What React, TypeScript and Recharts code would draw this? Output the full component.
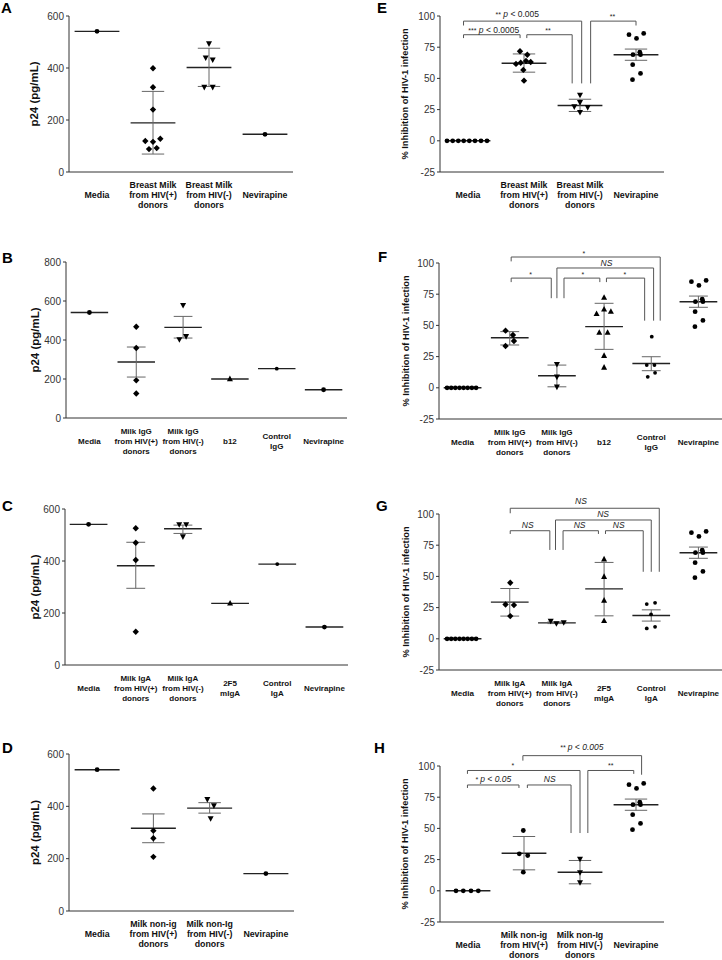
import React from 'react'
import { ScatterChart, Scatter, XAxis, YAxis, ReferenceLine, ReferenceDot } from 'recharts'

const FONT = '"Liberation Sans", Arial, Helvetica, sans-serif'
const AXIS = '#333'

// ---------- category labels ----------
const catsBM = ['Media', 'Breast Milk\nfrom HIV(+)\ndonors', 'Breast Milk\nfrom HIV(-)\ndonors', 'Nevirapine']
const catsIgG = ['Media', 'Milk IgG\nfrom HIV(+)\ndonors', 'Milk IgG\nfrom HIV(-)\ndonors', 'b12', 'Control\nIgG', 'Nevirapine']
const catsIgA = ['Media', 'Milk IgA\nfrom HIV(+)\ndonors', 'Milk IgA\nfrom HIV(-)\ndonors', '2F5\nmIgA', 'Control\nIgA', 'Nevirapine']
const catsNonIg = ['Media', 'Milk non-ig\nfrom HIV(+)\ndonors', 'Milk non-Ig\nfrom HIV(-)\ndonors', 'Nevirapine']

const p24Ticks = [0, 200, 400, 600]
const p24TicksB = [0, 200, 400, 600, 800]
const inhTicks = [-25, 0, 25, 50, 75, 100]

// ---------- A: p24, whole milk ----------
const aPos = [399, 326, 240, 119, 116, 128, 88, 92]
const aPosJit = [0, 0, 0, -7.7, 0, 7.3, -4, 3.7]
const aNeg = [494, 440, 432, 327, 327]
const aNegJit = [0, -3.3, 3.7, -4.7, 3.7]
const aMean = [541, 189, 402, 145]
const aLo = [null, 69, 329, null]
const aHi = [null, 310, 476, null]

// ---------- B: p24, IgG ----------
const bPos = [468, 359, 193, 126]
const bNeg = [579, 403, 419]
const bNegJit = [0, -3.7, 3]
const bMean = [541, 287, 465, 200, 253, 145]
const bLo = [null, 210, 410, null, null, null]
const bHi = [null, 364, 521, null, null, null]

// ---------- C: p24, IgA ----------
const cPos = [526, 470, 404, 128]
const cNeg = [541, 541, 494]
const cNegJit = [-3.7, 3.3, 0]
const cMean = [541, 382, 524, 237, 388, 146]
const cLo = [null, 295, 506, null, null, null]
const cHi = [null, 472, 538, null, null, null]

// ---------- D: p24, non-Ig ----------
const dPos = [468, 307, 278, 207]
const dNeg = [427, 403, 354]
const dNegJit = [-2.3, 4.3, 1]
const dMean = [540, 316, 393, 143]
const dLo = [null, 261, 374, null]
const dHi = [null, 371, 414, null]

// ---------- inhibition panels ----------
const media8 = [0, 0, 0, 0, 0, 0, 0, 0]
const media8JitWide = [-21, -15.3, -9.7, -4.3, 1.3, 7, 13, 19]
const media8JitNarrow = [-15.5, -11.4, -7.3, -3.1, 1, 5.1, 9.3, 13.5]
const nevInh = [85, 82, 86, 71, 69, 69, 61, 54, 49]
const nevJit = [-7, 0.5, 7.7, 3.8, -3, 4.5, -3.3, 4.5, -3.5]

// E
const ePos = [71.7, 69, 64, 63.2, 62.6, 61.6, 56.8, 48.2]
const ePosJit = [-4, 3.3, 2, 6.7, -3.3, -8, -0.7, 0]
const eNeg = [36.8, 30.9, 27.5, 26.9, 22.9]
const eNegJit = [0, 0, -5.7, 7.7, 0]
const eMean = [0, 62.1, 28.3, 69]
const eLo = [null, 55, 23.5, 64.5]
const eHi = [null, 69.6, 33.3, 73.5]

// F
const fPos = [45.8, 42.3, 37.5, 33.5]
const fPosJit = [-4.2, 3.2, 4.2, -4.2]
const fNeg = [19, 8.8, 0.8]
const fB12 = [72.3, 59.2, 62.9, 61, 44.2, 44.2, 25.7, 16.3]
const fB12Jit = [0, -7.5, 0, 6.8, -4.8, 3.5, 0, 0]
const fCtrl = [41, 18.2, 18.2, 12, 8.8]
const fCtrlJit = [0.5, -4.5, 3.2, 3.8, -3.5]
const fMean = [0, 40.1, 9.6, 49, 19.5, 69]
const fLo = [null, 34.3, 0.8, 30.8, 13.7, 64.5]
const fHi = [null, 45, 18.2, 67.7, 24.9, 73.5]

// G
const gPos = [44.9, 27.5, 27, 18.2]
const gPosJit = [0.5, -4.2, 4.2, 0.5]
const gNeg = [14.4, 12.3, 13.1]
const gNegJit = [-6.2, -0.5, 6.8]
const g2F5 = [63.8, 49.7, 30.7, 14.4]
const gCtrl = [27.8, 28.8, 19.5, 8.3, 9.6]
const gCtrlJit = [-4.5, 3.8, -0.2, -4.5, 3.8]
const gMean = [0, 29.4, 12.8, 40, 18.7, 69]
const gLo = [null, 18.2, 12.2, 18.4, 14.2, 64.5]
const gHi = [null, 40.3, 13.5, 61.2, 23.2, 73.5]

// H
const hMedia = [0, 0, 0, 0]
const hMediaJit = [-12, -4.7, 3, 10.3]
const hPos = [48.3, 29.6, 28.3, 14.9]
const hPosJit = [-0.7, -4.7, 3.7, -0.7]
const hNeg = [25.6, 14.7, 6.7]
const hMean = [0, 30.1, 14.9, 69]
const hLo = [null, 16.8, 5.6, 64.5]
const hHi = [null, 43.5, 24.3, 73.5]

// significance brackets: [x1, x2, yTop, leftLegEnd, rightLegEnd]
type Bracket = [number, number, number, number, number]
const bracketsE: Bracket[] = [
  [-0.08, 0.93, 85, 82.3, 82.3],
  [1.05, 1.86, 85, 82.3, 46],
  [-0.08, 2.03, 95.9, 92.4, 46],
  [2.19, 3.0, 95.9, 46, 92.4],
]
const bracketsF: Bracket[] = [
  [1.03, 4.19, 104.8, 101.3, 53.8],
  [2.0, 4.05, 96, 71.8, 53.8],
  [1.03, 1.88, 87.9, 84.7, 71.8],
  [2.15, 2.91, 87.9, 71.8, 84.7],
  [3.05, 3.86, 87.9, 84.7, 53.8],
]
const bracketsG: Bracket[] = [
  [1.01, 4.17, 104.6, 100.6, 53.7],
  [1.97, 4.0, 95.2, 71.2, 53.7],
  [1.01, 1.85, 86.6, 84, 71.2],
  [2.13, 2.88, 86.6, 71.2, 84],
  [3.03, 3.83, 86.6, 84, 53.7],
]
const bracketsH: Bracket[] = [
  [-0.01, 0.91, 84.8, 82.4, 82.4],
  [1.06, 1.84, 84.8, 82.4, 46.3],
  [-0.01, 2.0, 96.4, 93.7, 46.3],
  [2.14, 2.96, 96.4, 46.3, 93.7],
  [0.98, 3.1, 108.3, 104.3, 93],
]

type Note = { x: number; y: number; stars?: string; p?: string; ns?: boolean; it?: boolean }
const notesE: Note[] = [
  { x: 0.46, y: 86.5, stars: '***', p: '< 0.0005' },
  { x: 1.43, y: 86, stars: '**' },
  { x: 0.88, y: 99.3, stars: '**', p: '< 0.005' },
  { x: 2.58, y: 97.5, stars: '**' },
]
const notesF: Note[] = [
  { x: 2.57, y: 106, stars: '*' },
  { x: 3.05, y: 97.3, ns: true },
  { x: 1.44, y: 89, stars: '*' },
  { x: 2.55, y: 89, stars: '*' },
  { x: 3.44, y: 89, stars: '*' },
]
const notesG: Note[] = [
  { x: 2.51, y: 108, ns: true },
  { x: 2.98, y: 97.4, ns: true },
  { x: 1.38, y: 88.5, ns: true },
  { x: 2.48, y: 88.5, ns: true },
  { x: 3.31, y: 88.5, ns: true },
]
const notesH: Note[] = [
  { x: 0.45, y: 87, stars: '*', p: '< 0.05', it: true },
  { x: 1.46, y: 87, ns: true },
  { x: 0.8, y: 98.4, stars: '*' },
  { x: 2.55, y: 98.4, stars: '**' },
  { x: 2.03, y: 113.2, stars: '**', p: '< 0.005', it: true },
]

type Mk = 'circle' | 'diamond' | 'up' | 'down' | 'small'
type Group = { cat: number; values: number[]; jitter?: number[]; kind: Mk }

function Marker({ cx, cy, kind }: { cx?: number; cy?: number; kind: Mk }) {
  if (cx == null || cy == null) return null
  if (kind === 'diamond')
    return <path d={`M${cx},${cy - 3.2}L${cx + 3.2},${cy}L${cx},${cy + 3.2}L${cx - 3.2},${cy}Z`} fill="#000" />
  if (kind === 'up')
    return <path d={`M${cx},${cy - 3.4}L${cx + 3},${cy + 2.2}L${cx - 3},${cy + 2.2}Z`} fill="#000" />
  if (kind === 'down')
    return <path d={`M${cx},${cy + 3.4}L${cx + 3},${cy - 2.2}L${cx - 3},${cy - 2.2}Z`} fill="#000" />
  if (kind === 'small') return <circle cx={cx} cy={cy} r={1.9} fill="#000" />
  return <circle cx={cx} cy={cy} r={2.4} fill="#000" />
}

function CatTick({ x, y, payload, cats, size }: any) {
  const lines = String(cats[payload.value] ?? '').split('\n')
  return (
    <g>
      {lines.map((ln: string, k: number) => (
        <text key={k} x={x} y={y + 23 + (k - (lines.length - 1) / 2) * 10} textAnchor="middle"
          dominantBaseline="central" fontSize={size} fontWeight="bold" fontFamily={FONT} fill="#111">
          {ln}
        </text>
      ))}
    </g>
  )
}

function NoteText({ cx, cy, note }: { cx: number; cy: number; note: Note }) {
  if (cx == null || cy == null) return null
  if (note.ns)
    return <text x={cx} y={cy} textAnchor="middle" fontSize={8.5} fontStyle="italic" fontFamily={FONT} fill="#222">NS</text>
  return (
    <text x={cx} y={cy} textAnchor="middle" fontSize={8.5} fontFamily={FONT} fill="#222" fontStyle={note.it ? 'italic' : 'normal'}>
      <tspan fontSize={7}>{note.stars}</tspan>
      {note.p && <tspan fontStyle="italic"> p</tspan>}
      {note.p && <tspan> {note.p}</tspan>}
    </text>
  )
}

type PanelProps = {
  box: [number, number, number, number]
  cats: string[]
  catSize: number
  domain: [number, number]
  ticks: number[]
  title: string
  titleSize: number
  titleX: number
  groups: Group[]
  mean: number[]
  lo: (number | null)[]
  hi: (number | null)[]
  brackets?: Bracket[]
  notes?: Note[]
}

function Panel({ box, cats, catSize, domain, ticks, title, titleSize, titleX, groups, mean, lo, hi, brackets = [], notes = [] }: PanelProps) {
  const [bx, by, bw, bh] = box
  const n = cats.length
  const catW = bw / n
  const idx = cats.map((_, i) => i)
  const left = bx - 60

  return (
    <div style={{ position: 'absolute', left, top: by - 30 }}>
      <ScatterChart width={bw + 70} height={bh + 85} margin={{ top: 30, right: 10, bottom: 5, left: 10 }}>
        <XAxis type="number" dataKey="x" domain={[-0.5, n - 0.5]} ticks={idx} interval={0}
          tickLine={false} tickSize={0} tickMargin={0} height={50} axisLine={{ stroke: AXIS }}
          tick={(t: any) => <CatTick {...t} cats={cats} size={catSize} />} />
        <YAxis type="number" dataKey="y" domain={domain} ticks={ticks} interval={0} width={50}
          tickSize={3} tickMargin={2} axisLine={{ stroke: AXIS }} tickLine={{ stroke: AXIS }}
          tick={{ fontSize: 10, fill: '#333', fontFamily: FONT }}
          label={{
            value: title, angle: -90, position: 'insideLeft', offset: titleX - left - 10,
            style: { textAnchor: 'middle', fontSize: titleSize, fontWeight: 'bold', fill: '#111', fontFamily: FONT },
          }} />

        {mean.map((m, i) => (
          <ReferenceLine key={'m' + i} segment={[{ x: i - 0.4, y: m }, { x: i + 0.4, y: m }]}
            stroke="#222" strokeWidth={1.4} ifOverflow="visible" />
        ))}
        {mean.map((m, i) => {
          const l = lo[i]
          const h = hi[i]
          if (l == null || h == null) return null
          return [
            <ReferenceLine key={'v' + i} segment={[{ x: i, y: l }, { x: i, y: h }]} stroke="#666" strokeWidth={1} ifOverflow="visible" />,
            <ReferenceLine key={'t' + i} segment={[{ x: i - 0.2, y: h }, { x: i + 0.2, y: h }]} stroke="#666" strokeWidth={1} ifOverflow="visible" />,
            <ReferenceLine key={'b' + i} segment={[{ x: i - 0.2, y: l }, { x: i + 0.2, y: l }]} stroke="#666" strokeWidth={1} ifOverflow="visible" />,
          ]
        })}

        {brackets.map(([x1, x2, yt, y1, y2], k) => [
          <ReferenceLine key={'bh' + k} segment={[{ x: x1, y: yt }, { x: x2, y: yt }]} stroke="#555" strokeWidth={1} ifOverflow="visible" />,
          <ReferenceLine key={'bl' + k} segment={[{ x: x1, y: yt }, { x: x1, y: y1 }]} stroke="#555" strokeWidth={1} ifOverflow="visible" />,
          <ReferenceLine key={'br' + k} segment={[{ x: x2, y: yt }, { x: x2, y: y2 }]} stroke="#555" strokeWidth={1} ifOverflow="visible" />,
        ])}
        {notes.map((nt, k) => (
          <ReferenceDot key={'n' + k} x={nt.x} y={nt.y} r={0} ifOverflow="visible"
            shape={(p: any) => <NoteText cx={p.cx} cy={p.cy} note={nt} />} />
        ))}

        {groups.map((g, k) => (
          <Scatter key={'s' + k} isAnimationActive={false}
            data={g.values.map((v, j) => ({ x: g.cat + (g.jitter ? g.jitter[j] : 0) / catW, y: v }))}
            shape={(p: any) => <Marker cx={p.cx} cy={p.cy} kind={g.kind} />} />
        ))}
      </ScatterChart>
    </div>
  )
}

const letters: [string, number, number][] = [
  ['A', 1, 13], ['E', 377, 13], ['B', 2, 263], ['F', 378, 262],
  ['C', 2, 511], ['G', 376, 511], ['D', 2, 753], ['H', 374, 753],
]

export default function App() {
  return (
    <div style={{ position: 'absolute', left: 0, top: 0, width: 722, height: 960, background: '#fff', overflow: 'hidden' }}>
      <Panel box={[69, 16, 224, 156]} cats={catsBM} catSize={8.8} domain={[0, 600]} ticks={p24Ticks}
        title="p24 (pg/mL)" titleSize={11.5} titleX={34}
        groups={[
          { cat: 0, values: [aMean[0]], kind: 'circle' },
          { cat: 1, values: aPos, jitter: aPosJit, kind: 'diamond' },
          { cat: 2, values: aNeg, jitter: aNegJit, kind: 'down' },
          { cat: 3, values: [aMean[3]], kind: 'circle' },
        ]}
        mean={aMean} lo={aLo} hi={aHi} />

      <Panel box={[66, 262, 281, 156]} cats={catsIgG} catSize={8} domain={[0, 800]} ticks={p24TicksB}
        title="p24 (pg/mL)" titleSize={11.5} titleX={35}
        groups={[
          { cat: 0, values: [bMean[0]], kind: 'circle' },
          { cat: 1, values: bPos, kind: 'diamond' },
          { cat: 2, values: bNeg, jitter: bNegJit, kind: 'down' },
          { cat: 3, values: [bMean[3]], kind: 'up' },
          { cat: 4, values: [bMean[4]], kind: 'small' },
          { cat: 5, values: [bMean[5]], kind: 'circle' },
        ]}
        mean={bMean} lo={bLo} hi={bHi} />

      <Panel box={[65, 509, 283, 156]} cats={catsIgA} catSize={8} domain={[0, 600]} ticks={p24Ticks}
        title="p24 (pg/mL)" titleSize={11.5} titleX={34.5}
        groups={[
          { cat: 0, values: [cMean[0]], kind: 'circle' },
          { cat: 1, values: cPos, kind: 'diamond' },
          { cat: 2, values: cNeg, jitter: cNegJit, kind: 'down' },
          { cat: 3, values: [cMean[3]], kind: 'up' },
          { cat: 4, values: [cMean[4]], kind: 'small' },
          { cat: 5, values: [cMean[5]], kind: 'circle' },
        ]}
        mean={cMean} lo={cLo} hi={cHi} />

      <Panel box={[69, 754, 225, 157]} cats={catsNonIg} catSize={8.8} domain={[0, 600]} ticks={p24Ticks}
        title="p24 (pg/mL)" titleSize={11.5} titleX={34.5}
        groups={[
          { cat: 0, values: [dMean[0]], kind: 'circle' },
          { cat: 1, values: dPos, kind: 'diamond' },
          { cat: 2, values: dNeg, jitter: dNegJit, kind: 'down' },
          { cat: 3, values: [dMean[3]], kind: 'circle' },
        ]}
        mean={dMean} lo={dLo} hi={dHi} />

      <Panel box={[440, 16, 224, 156]} cats={catsBM} catSize={8.8} domain={[-25, 100]} ticks={inhTicks}
        title="% Inhibition of HIV-1 infection" titleSize={9.3} titleX={405}
        groups={[
          { cat: 0, values: media8, jitter: media8JitWide, kind: 'circle' },
          { cat: 1, values: ePos, jitter: ePosJit, kind: 'diamond' },
          { cat: 2, values: eNeg, jitter: eNegJit, kind: 'down' },
          { cat: 3, values: nevInh, jitter: nevJit, kind: 'circle' },
        ]}
        mean={eMean} lo={eLo} hi={eHi} brackets={bracketsE} notes={notesE} />

      <Panel box={[439, 263, 283, 156]} cats={catsIgG} catSize={8.1} domain={[-25, 100]} ticks={inhTicks}
        title="% Inhibition of HIV-1 infection" titleSize={9.3} titleX={405.5}
        groups={[
          { cat: 0, values: media8, jitter: media8JitNarrow, kind: 'circle' },
          { cat: 1, values: fPos, jitter: fPosJit, kind: 'diamond' },
          { cat: 2, values: fNeg, kind: 'down' },
          { cat: 3, values: fB12, jitter: fB12Jit, kind: 'up' },
          { cat: 4, values: fCtrl, jitter: fCtrlJit, kind: 'small' },
          { cat: 5, values: nevInh, jitter: nevJit, kind: 'circle' },
        ]}
        mean={fMean} lo={fLo} hi={fHi} brackets={bracketsF} notes={notesF} />

      <Panel box={[439, 514, 283, 156]} cats={catsIgA} catSize={8.1} domain={[-25, 100]} ticks={inhTicks}
        title="% Inhibition of HIV-1 infection" titleSize={9.3} titleX={405.7}
        groups={[
          { cat: 0, values: media8, jitter: media8JitNarrow, kind: 'circle' },
          { cat: 1, values: gPos, jitter: gPosJit, kind: 'diamond' },
          { cat: 2, values: gNeg, jitter: gNegJit, kind: 'down' },
          { cat: 3, values: g2F5, kind: 'up' },
          { cat: 4, values: gCtrl, jitter: gCtrlJit, kind: 'small' },
          { cat: 5, values: nevInh, jitter: nevJit, kind: 'circle' },
        ]}
        mean={gMean} lo={gLo} hi={gHi} brackets={bracketsG} notes={notesG} />

      <Panel box={[440, 766, 224, 156]} cats={catsNonIg} catSize={8.8} domain={[-25, 100]} ticks={inhTicks}
        title="% Inhibition of HIV-1 infection" titleSize={9.3} titleX={405}
        groups={[
          { cat: 0, values: hMedia, jitter: hMediaJit, kind: 'circle' },
          { cat: 1, values: hPos, jitter: hPosJit, kind: 'circle' },
          { cat: 2, values: hNeg, kind: 'down' },
          { cat: 3, values: nevInh, jitter: nevJit, kind: 'circle' },
        ]}
        mean={hMean} lo={hLo} hi={hHi} brackets={bracketsH} notes={notesH} />

      <svg width={722} height={960} style={{ position: 'absolute', left: 0, top: 0, pointerEvents: 'none' }}>
        {letters.map(([t, x, y]) => (
          <text key={t} x={x} y={y} fontSize={15} fontWeight="bold" fontFamily={FONT} fill="#000">{t}</text>
        ))}
      </svg>
    </div>
  )
}
